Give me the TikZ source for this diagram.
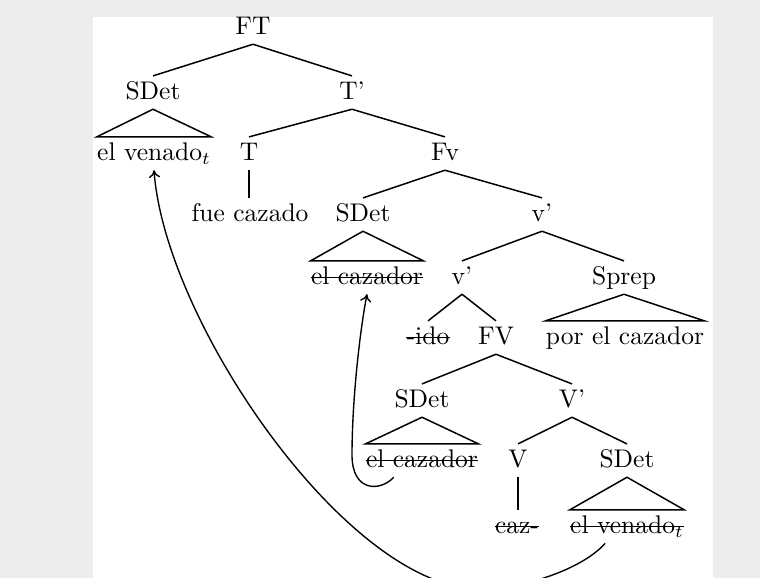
\documentclass[tikz,border=0pt]{standalone}
\usetikzlibrary{arrows.meta,calc}

\begin{document}
\begin{tikzpicture}[x=0.4pt,y=-0.4pt,
  cat/.style={anchor=base, inner xsep=0pt, inner ysep=2.5pt,
              text height=6.94pt, text depth=1pt,
              font=\fontsize{10.2}{12}\selectfont},
  branch/.style={line width=0.6pt},
  strike/.style={line width=0.6pt},
  mov/.style={line width=0.55pt, -{To[length=3pt,width=4.5pt]}}]

% page background
\fill[black!7] (0,0) rectangle (760,578);
\fill[white] (93,17) rectangle (713,578);
\useasboundingbox (0,0) rectangle (760,578);
\clip (0,0) rectangle (760,578);

% categories and words
\node[cat] (ft)  at (253,35)  {FT};
\node[cat] (sdA) at (153,100) {SDet};
\node[cat] (tb)  at (352,100) {T'};
\node[cat] (lvA) at (154,161) {el venado$_t$};
\node[cat] (t)   at (249,161) {T};
\node[cat] (fv)  at (445,161) {Fv};
\node[cat] (fue) at (250,222) {fue cazado};
\node[cat] (sdB) at (363,222) {SDet};
\node[cat] (vbA) at (542,222) {v'};
\node[cat] (lcB) at (367,285) {el cazador};
\node[cat] (vbB) at (462,285) {v'};
\node[cat] (sp)  at (624,285) {Sprep};
\node[cat] (ido) at (428,345) {-ido};
\node[cat] (fvb) at (496,345) {FV};
\node[cat] (por) at (625,345) {por el cazador};
\node[cat] (sdC) at (422,408) {SDet};
\node[cat] (vb)  at (572,408) {V'};
\node[cat] (lcC) at (422,468) {el cazador};
\node[cat] (v)   at (518,468) {V};
\node[cat] (sdD) at (627,468) {SDet};
\node[cat] (caz) at (517,534) {caz-};
\node[cat] (lvD) at (627,534) {el venado$_t$};

% traces are struck through
\foreach \n in {lcB,ido,lcC,caz,lvD}
  \draw[strike] ([yshift=3pt]\n.base west) -- ([yshift=3pt]\n.base east);

% branches
\draw[branch] (ft.south) -- (sdA.north)  (ft.south) -- (tb.north);
\draw[branch] (tb.south) -- (t.north)    (tb.south) -- (fv.north);
\draw[branch] (t.south) -- (t.south |- fue.north);
\draw[branch] (fv.south) -- (sdB.north)  (fv.south) -- (vbA.north);
\draw[branch] (vbA.south) -- (vbB.north) (vbA.south) -- (sp.north);
\draw[branch] (vbB.south) -- (ido.north) (vbB.south) -- (fvb.north);
\draw[branch] (fvb.south) -- (sdC.north) (fvb.south) -- (vb.north);
\draw[branch] (vb.south) -- (v.north)    (vb.south) -- (sdD.north);
\draw[branch] (v.south) -- (v.south |- caz.north);

% roofs over phrases
\draw[branch] (sdA.south) -- (lvA.north west) -- (lvA.north east) -- cycle;
\draw[branch] (sdB.south) -- (lcB.north west) -- (lcB.north east) -- cycle;
\draw[branch] (sp.south)  -- (por.north west) -- (por.north east) -- cycle;
\draw[branch] (sdC.south) -- (lcC.north west) -- (lcC.north east) -- cycle;
\draw[branch] (sdD.south) -- (lvD.north west) -- (lvD.north east) -- cycle;

% movement arrows
\coordinate (s1) at ($(lcC.south west)!0.25!(lcC.south east)$);
\coordinate (s2) at ($(lvD.south west)!0.31!(lvD.south east)$);
\draw[mov] (s1) .. controls (380,492) and (352,492) .. (352,455)
                .. controls (352,400) and (360,330) .. (lcB.south);
\draw[mov] (s2) .. controls (580,572) and (510,593) .. (468,588)
                .. controls (340,575) and (165,320) .. (lvA.south);
\end{tikzpicture}
\end{document}
